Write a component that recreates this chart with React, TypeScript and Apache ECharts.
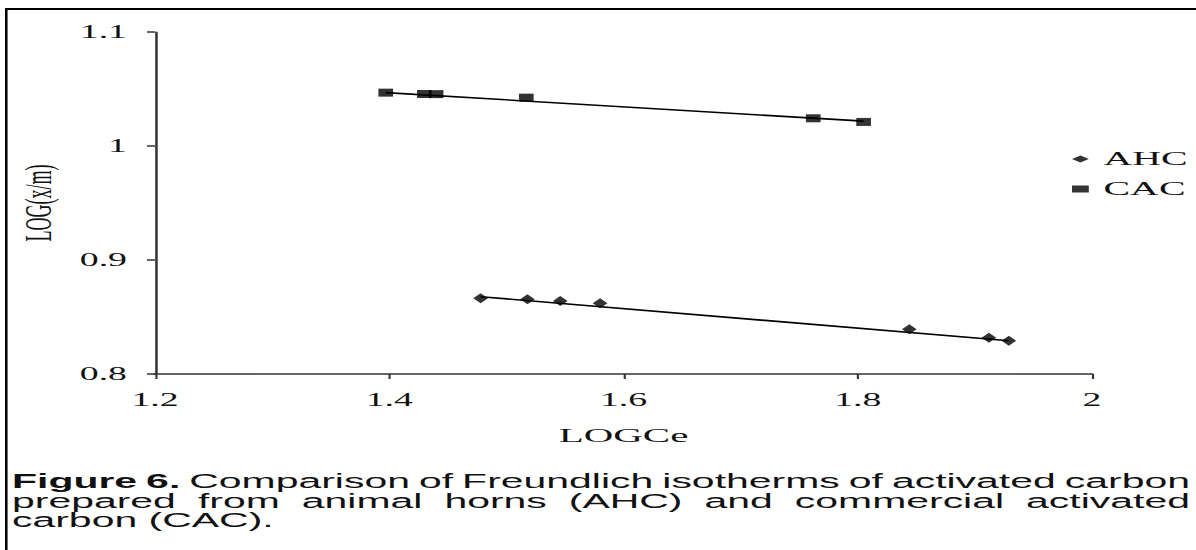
import React, { useEffect, useRef } from 'react';
import * as echarts from 'echarts';

// ---- data ----
const ahcX = [1.478, 1.518, 1.546, 1.58, 1.844, 1.912, 1.929];
const ahcY = [0.8664, 0.8655, 0.864, 0.862, 0.8392, 0.8319, 0.8292];
const cacX = [1.397, 1.43, 1.44, 1.517, 1.762, 1.805];
const cacY = [1.0468, 1.0456, 1.0455, 1.0424, 1.0243, 1.0211];
const ahcFitX = [1.478, 1.929];
const ahcFitY = [0.8678, 0.8292];
const cacFitX = [1.397, 1.805];
const cacFitY = [1.0468, 1.0218];
const xTicks = [1.2, 1.4, 1.6, 1.8, 2];
const yTicks = [0.8, 0.9, 1, 1.1];
const seriesNames = ['AHC', 'CAC'];
const xTitle = 'LOGCe';
const yTitle = 'LOG(x/m)';
const captionBold = 'Figure 6.';
const captionLines = [
  'Comparison of Freundlich isotherms of activated carbon',
  'prepared from animal horns (AHC) and commercial activated',
  'carbon (CAC).',
];

// the original figure is stretched horizontally
const S = 2.1;
const W = 1196 / S;
const H = 550;
const px = (x: number) => x / S;

const SERIF = '"Liberation Serif", "Times New Roman", serif';
const SANS = '"Liberation Sans", Arial, sans-serif';
const INK = '#111';

function zip(a: number[], b: number[]) {
  return a.map((v, i) => [v, b[i]]);
}

function buildCaption(): any[] {
  const canvas = document.createElement('canvas');
  const ctx = canvas.getContext('2d')!;
  const size = 19.5;
  const fontOf = (bold: boolean) => `${bold ? 'bold ' : ''}${size}px ${SANS}`;
  const measure = (t: string, bold: boolean) => {
    ctx.font = fontOf(bold);
    return ctx.measureText(t).width;
  };
  const left = px(12);
  const right = px(1190);
  const lineYs = [481.5, 501, 520.5];
  const els: any[] = [];
  captionLines.forEach((line, li) => {
    const words: { t: string; b: boolean }[] = [];
    if (li === 0) captionBold.split(' ').forEach((t) => words.push({ t, b: true }));
    line.split(' ').forEach((t) => words.push({ t, b: false }));
    const widths = words.map((w) => measure(w.t, w.b));
    const total = widths.reduce((a, b) => a + b, 0);
    const justify = li < captionLines.length - 1;
    const gap = justify ? (right - left - total) / (words.length - 1) : measure(' ', false);
    let x = left;
    words.forEach((w, i) => {
      els.push({
        type: 'text',
        x,
        y: lineYs[li],
        silent: true,
        style: {
          text: w.t,
          fontFamily: SANS,
          fontSize: size,
          fontWeight: w.b ? 'bold' : 'normal',
          fill: INK,
          align: 'left',
          verticalAlign: 'middle',
        },
      });
      x += widths[i] + gap;
    });
  });
  return els;
}

export default function App() {
  const ref = useRef<HTMLDivElement>(null);
  useEffect(() => {
    if (!ref.current) return;
    const chart = echarts.init(ref.current, undefined, { renderer: 'svg' });
    const xInterval = Number((xTicks[1] - xTicks[0]).toFixed(6));
    const yInterval = Number((yTicks[1] - yTicks[0]).toFixed(6));
    const fitStyle = { color: '#000', width: 1.6 };
    chart.setOption({
      animation: false,
      backgroundColor: '#fff',
      grid: {
        left: px(155),
        right: W - px(1091),
        top: 32,
        bottom: H - 374,
        containLabel: false,
      },
      legend: {
        orient: 'vertical',
        left: px(1072),
        top: 149.5,
        padding: 0,
        itemWidth: 8,
        itemHeight: 7,
        itemGap: 11,
        selectedMode: false,
        data: [
          { name: seriesNames[0], icon: 'diamond' },
          { name: seriesNames[1], icon: 'rect' },
        ],
        textStyle: {
          fontFamily: SERIF,
          fontSize: 19,
          color: INK,
          padding: [0, 0, 0, 2],
        },
      },
      xAxis: {
        type: 'value',
        min: xTicks[0],
        max: xTicks[xTicks.length - 1],
        interval: xInterval,
        name: xTitle,
        nameLocation: 'middle',
        nameGap: 51,
        nameTextStyle: { fontFamily: SERIF, fontSize: 19.5, color: INK },
        axisLine: { show: true, onZero: false, lineStyle: { color: '#333', width: 1.5 } },
        axisTick: { show: true, length: 5, lineStyle: { color: '#333', width: 1 } },
        axisLabel: { margin: 17, fontFamily: SERIF, fontSize: 18, color: INK },
        splitLine: { show: false },
      },
      yAxis: {
        type: 'value',
        min: yTicks[0],
        max: yTicks[yTicks.length - 1],
        interval: yInterval,
        name: yTitle,
        nameLocation: 'middle',
        nameGap: 43,
        nameTextStyle: { fontFamily: SERIF, fontSize: 18, color: INK },
        axisLine: { show: true, onZero: false, lineStyle: { color: '#333', width: 1.2 } },
        axisTick: { show: true, length: px(8), lineStyle: { color: '#333', width: 1.5 } },
        axisLabel: { margin: px(28), fontFamily: SERIF, fontSize: 18, color: INK },
        splitLine: { show: false },
      },
      series: [
        {
          name: seriesNames[0],
          type: 'scatter',
          symbol: 'diamond',
          symbolSize: [7, 10],
          itemStyle: { color: '#000' },
          data: zip(ahcX, ahcY),
          z: 3,
        },
        {
          name: seriesNames[1],
          type: 'scatter',
          symbol: 'rect',
          symbolSize: [7, 8],
          itemStyle: { color: '#000' },
          data: zip(cacX, cacY),
          z: 3,
        },
        {
          name: 'AHC fit',
          type: 'line',
          showSymbol: false,
          silent: true,
          lineStyle: fitStyle,
          data: zip(ahcFitX, ahcFitY),
          z: 2,
        },
        {
          name: 'CAC fit',
          type: 'line',
          showSymbol: false,
          silent: true,
          lineStyle: fitStyle,
          data: zip(cacFitX, cacFitY),
          z: 2,
        },
      ],
      graphic: [
        {
          type: 'line',
          silent: true,
          shape: { x1: px(6.3), y1: 8, x2: px(6.3), y2: H },
          style: { stroke: '#000', lineWidth: 1.2 },
        },
        {
          type: 'line',
          silent: true,
          shape: { x1: px(5), y1: 9, x2: W, y2: 9 },
          style: { stroke: '#000', lineWidth: 2 },
        },
        ...buildCaption(),
      ],
    });
    return () => chart.dispose();
  }, []);
  return (
    <div
      ref={ref}
      style={{
        position: 'absolute',
        left: 0,
        top: 0,
        width: W,
        height: H,
        transform: `scaleX(${S})`,
        transformOrigin: '0 0',
        background: '#fff',
      }}
    />
  );
}
